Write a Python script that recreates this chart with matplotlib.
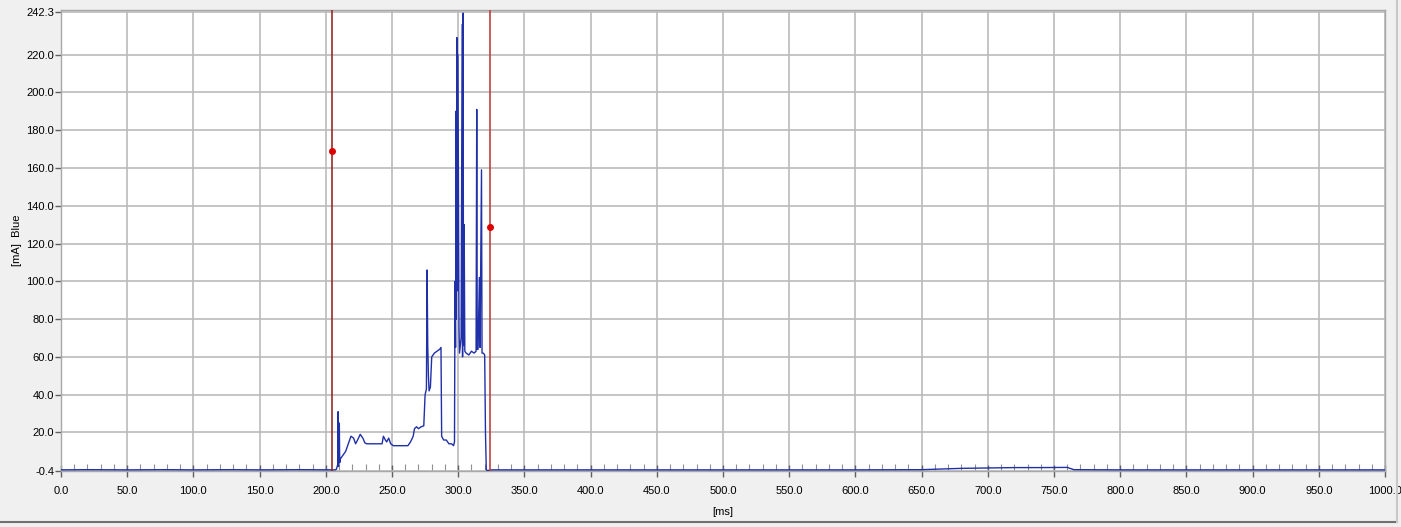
import matplotlib
matplotlib.use("Agg")
import matplotlib.pyplot as plt
from matplotlib.ticker import FixedLocator, MultipleLocator
from matplotlib.lines import Line2D

# ---- data ----
time_ms = [0, 20, 50, 80, 100, 130, 150, 180, 207,
           208.0, 209.0, 209.3, 209.6, 210.2, 210.5, 211, 213, 215, 217, 219,
           221, 222.5, 224, 226, 228, 229.5, 231, 235, 240, 242.5, 243.5, 245,
           246, 247.5, 249, 251, 253, 258, 262, 264, 266, 267, 268.5, 270, 272,
           274, 275, 276, 276.5, 277, 277.5, 278, 279, 280, 282, 284, 286, 287,
           287.5, 289, 291, 293, 295, 296.5, 297.2, 297.6, 298.0, 298.3, 298.6,
           299.0, 299.4, 299.8, 300.6, 301.0, 302.2, 303.0, 303.3, 303.7, 304.0,
           304.5, 305, 306, 308, 310, 312, 313.5, 314.0, 314.4, 315, 316, 316.5,
           317.6, 318, 319, 320, 320.6, 321.2, 321.8, 325, 400, 500, 600, 650,
           680, 700, 720, 740, 760, 765, 800, 1000]
current_ma = [0.2, 0.3, 0.2, 0.3, 0.2, 0.3, 0.2, 0.3, 0.2,
              0.5, 3, 31, 2, 25, 4, 6, 8, 10, 14, 18,
              17, 14, 16, 19, 17, 14.5, 14, 14, 14, 14, 18, 16,
              15, 17, 14, 13, 13, 13, 13, 15, 18, 22, 23, 22, 23,
              23.5, 40, 43, 106, 66, 50, 42, 44, 60, 62, 63, 64, 65,
              18, 16, 16, 14, 14, 13, 15, 100, 65, 190, 80,
              229, 95, 220, 75, 62, 70, 236, 60, 242, 66,
              130, 63, 62, 61, 63, 62, 63, 191, 64, 64, 102, 65,
              159, 62, 62, 61, 20, 0.5, -0.2, 0.2, 0.2, 0.2, 0.2, 0.3,
              1.0, 1.2, 1.4, 1.4, 1.5, 0.3, 0.2, 0.2]

cursor_ms = [204.7, 324.0]
cursor_val = [169.0, 129.0]
cursor_colors = ["#9a2a2a", "#c04040"]

y_ticks = [-0.4, 20.0, 40.0, 60.0, 80.0, 100.0, 120.0, 140.0, 160.0, 180.0,
           200.0, 220.0, 242.3]
x_ticks = [0, 50, 100, 150, 200, 250, 300, 350, 400, 450, 500, 550, 600,
           650, 700, 750, 800, 850, 900, 950, 1000]

# ---- figure ----
fig = plt.figure(figsize=(14.01, 5.27), dpi=100, facecolor="#f0f0f0")
plt.rcParams['font.family'] = ['Liberation Sans', 'DejaVu Sans']
ax = fig.add_axes([61/1401, 1 - 471/527, (1385-61)/1401, (471-10)/527])
ax.set_facecolor("white")

ax.set_xlim(0, 1000)
ax.set_ylim(-0.4, 243.6)

ax.yaxis.set_major_locator(FixedLocator(y_ticks))
ax.xaxis.set_major_locator(FixedLocator(x_ticks))
ax.xaxis.set_minor_locator(MultipleLocator(10))
ax.set_yticklabels([f"{v:.1f}" for v in y_ticks], fontsize=8)
ax.set_xticklabels([f"{v:.1f}" for v in x_ticks], fontsize=8)

ax.grid(True, which="major", color="#bbbbbb", linewidth=1.2)
ax.set_axisbelow(True)

for s in ax.spines.values():
    s.set_color("#a8a8a8")
    s.set_linewidth(1.0)

ax.tick_params(axis="y", which="major", direction="out", length=4, width=1,
               color="#606060", pad=1)
ax.tick_params(axis="x", which="major", direction="inout", length=8, width=1,
               color="#606060", pad=7)
ax.tick_params(axis="x", which="minor", direction="in", length=5, width=0.8,
               color="#909090")

# data trace
ax.plot(time_ms, current_ma, color="#2030a8", linewidth=1.0, zorder=3)

# cursors
for cx, cy, cc in zip(cursor_ms, cursor_val, cursor_colors):
    ax.axvline(cx, color=cc, linewidth=1.2, zorder=4)
    ax.plot([cx], [cy], marker="o", color="#dd0000", markersize=4,
            linestyle="none", zorder=5)

ax.set_ylabel("[mA]  Blue", fontsize=8, labelpad=3)
ax.set_xlabel("[ms]", fontsize=8, labelpad=8)

# outer window frame lines
fig.add_artist(Line2D([0, 1397/1401], [1 - 522/527, 1 - 522/527],
                      color="#707070", linewidth=1.5, transform=fig.transFigure))
fig.add_artist(Line2D([1397/1401, 1397/1401], [1 - 522/527, 1],
                      color="#c8c8c8", linewidth=1.5, transform=fig.transFigure))

fig.savefig("out.png", dpi=100, facecolor=fig.get_facecolor())
